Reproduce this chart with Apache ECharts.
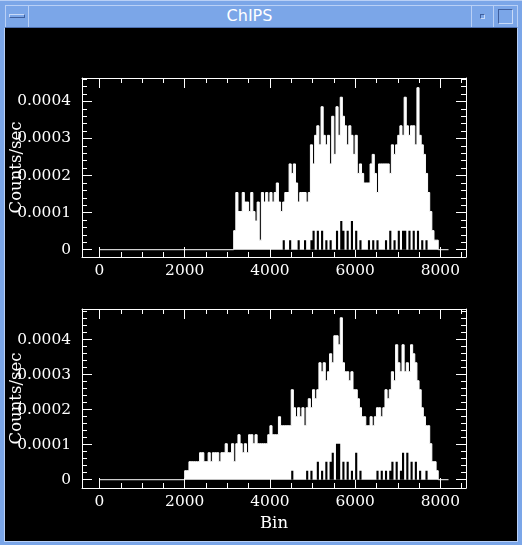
<!DOCTYPE html>
<html><head><meta charset="utf-8">
<script src="https://cdn.jsdelivr.net/npm/echarts@6/dist/echarts.min.js"></script>
<style>
html,body{margin:0;padding:0;background:#7BA6E8;}
#win{position:absolute;left:0;top:0;width:522px;height:545px;background:#7BA6E8;overflow:hidden;}
.ln{position:absolute;}
.lt{background:#B9D0F6;}
.dk{background:#4E70B0;}
#title{position:absolute;left:28px;top:5px;width:443px;height:22px;line-height:22px;text-align:center;color:#fff;font-family:"DejaVu Sans",sans-serif;font-size:16px;}
#dash{position:absolute;left:9px;top:14px;width:14px;height:2px;border-top:1px solid #C8DAF8;border-left:1px solid #C8DAF8;border-bottom:1px solid #3F5F9E;border-right:1px solid #3F5F9E;}
#dot{position:absolute;left:480px;top:14px;width:3px;height:3px;border-top:1px solid #3F5F9E;border-left:1px solid #3F5F9E;border-bottom:1px solid #C8DAF8;border-right:1px solid #C8DAF8;}
#sq{position:absolute;left:498px;top:9px;width:13px;height:13px;border-top:1px solid #3F5F9E;border-left:1px solid #3F5F9E;border-bottom:1px solid #C8DAF8;border-right:1px solid #C8DAF8;}
#content{position:absolute;left:5px;top:28px;width:512px;height:513px;background:#000;}
#chart{position:absolute;left:0;top:0;width:522px;height:545px;}
</style></head><body>
<div id="win">
  <div class="ln lt" style="left:0;top:0;width:522px;height:1px"></div>
  <div class="ln lt" style="left:5px;top:5px;width:512px;height:1px"></div>
  <div class="ln dk" style="left:5px;top:27px;width:512px;height:1px"></div>
  <div class="ln lt" style="left:5px;top:5px;width:1px;height:22px"></div>
  <div class="ln lt" style="left:28px;top:5px;width:1px;height:22px"></div>
  <div class="ln lt" style="left:471px;top:5px;width:1px;height:22px"></div>
  <div class="ln lt" style="left:493px;top:5px;width:1px;height:22px"></div>
  <div class="ln lt" style="left:517px;top:5px;width:1px;height:22px"></div>
  <div class="ln lt" style="left:4px;top:28px;width:1px;height:514px"></div>
  <div class="ln lt" style="left:517px;top:28px;width:1px;height:514px"></div>
  <div class="ln lt" style="left:4px;top:541px;width:514px;height:1px"></div>
  <div id="dash"></div>
  <div id="title">ChIPS</div>
  <div id="dot"></div>
  <div id="sq"></div>
  <div id="content"></div>
  <div id="chart"></div>
</div>
<script>
// ---- data (histogram counts, grouped in 50-bin steps) ----
const BIN_MIN = 0, BIN_MAX = 8192, BIN_WIDTH = 50;
const COUNT_RATE = 2.57e-5; // counts/sec corresponding to one count in a bin

const TOP_FIRST_BIN = 3150;
const topHiCounts = [
  2,6,4,4,6,5,5,4,6,4,
  3,5,1,6,5,6,5,6,5,6,
  7,5,4,5,6,6,9,8,9,7,
  5,6,6,6,5,6,11,9,12,13,
  11,15,12,11,12,9,14,10,15,12,
  16,14,13,11,13,12,10,12,8,9,
  8,7,7,7,9,10,8,6,9,9,
  9,9,9,8,11,10,11,12,13,12,
  16,13,12,13,13,11,17,12,11,10,
  8,6,4,2,1,1
];
const topLoCounts = [
  0,0,0,0,0,0,0,0,0,0,
  0,0,0,0,0,0,0,0,0,0,
  0,0,0,1,0,0,1,0,0,0,
  1,0,0,1,0,0,1,2,0,2,
  0,2,0,1,0,1,0,0,2,0,
  3,2,0,2,0,3,0,2,0,1,
  0,0,0,1,0,1,0,1,0,0,
  0,1,0,2,0,1,0,2,0,2,
  2,0,2,0,2,0,2,0,1,0,
  1,0,0,0,0,0
];

const BOTTOM_FIRST_BIN = 2000;
const bottomHiCounts = [
  1,1,2,2,2,2,2,3,3,2,
  2,3,2,3,3,3,2,3,3,4,
  3,3,4,2,4,5,4,3,4,3,
  5,5,4,5,4,4,4,4,4,5,
  6,5,5,5,7,6,6,6,6,6,
  10,8,7,8,7,8,6,8,9,8,
  10,9,10,13,12,13,11,12,14,13,
  16,16,15,18,13,12,12,11,12,10,
  10,9,8,7,7,6,6,7,6,7,
  8,8,7,8,10,9,10,12,11,15,
  13,12,15,12,13,12,15,14,13,11,
  10,8,7,6,6,4,2,2,1
];
const bottomLoCounts = [
  0,0,0,0,0,0,0,0,0,0,
  0,0,0,0,0,0,0,0,0,0,
  0,0,0,0,0,0,0,0,0,0,
  0,0,0,0,0,0,0,0,0,0,
  0,0,0,0,0,0,0,0,0,0,
  1,0,0,0,0,0,0,1,0,1,
  0,0,2,0,1,0,2,0,2,3,
  0,4,4,0,2,0,2,0,1,0,
  3,0,1,0,0,0,0,0,0,0,
  1,0,1,0,1,0,1,2,0,2,
  0,1,3,0,3,0,2,0,2,0,
  1,0,0,1,0,0,0,0,0
];

// ---- ticks ----
const xMajorTicks = [0, 2000, 4000, 6000, 8000];
const xMinorTicks = [500, 1000, 1500, 2500, 3000, 3500, 4500, 5000, 5500, 6500, 7000, 7500, 8500];
const yMajorTicks = [0, 0.0001, 0.0002, 0.0003, 0.0004];
const yMinorTicksTop = [0.00002,0.00004,0.00006,0.00008,0.00012,0.00014,0.00016,0.00018,0.00022,0.00024,0.00026,0.00028,0.00032,0.00034,0.00036,0.00038,0.00042,0.00044,0.00046];
const yMinorTicksBottom = yMinorTicksTop.concat([0.00048]);

// ---- axis ranges ----
const xRange = [-409.6, 8601.6];
const yRangeTop = [-0.0000197, 0.000463];
const yRangeBottom = [-0.0000237, 0.0004877];

function histPath(first, counts, withBase) {
  const pts = withBase ? [[BIN_MIN, 0], [first, 0]] : [];
  counts.forEach((c, i) => {
    const x0 = first + i * BIN_WIDTH, v = c * COUNT_RATE;
    pts.push([x0, v], [x0 + BIN_WIDTH, v]);
  });
  const end = first + counts.length * BIN_WIDTH;
  pts.push([end, 0]);
  if (withBase) pts.push([BIN_MAX, 0]);
  return pts;
}

const FONT = 'DejaVu Serif';
const WHITE = '#ffffff';
const lineW = {color: WHITE, width: 1};

function xAxes(gi, name) {
  const base = {type: 'value', gridIndex: gi, min: xRange[0], max: xRange[1], splitLine: {show: false}};
  return [
    Object.assign({}, base, {position: 'bottom',
      axisLine: {show: true, onZero: false, lineStyle: lineW},
      axisTick: {show: true, inside: true, length: 10, customValues: xMajorTicks, lineStyle: lineW},
      axisLabel: {show: true, customValues: xMajorTicks, formatter: v => String(v), color: WHITE, fontFamily: FONT, fontSize: 15.4, margin: 6},
      name: name, nameLocation: 'middle', nameGap: 27, nameMoveOverlap: false,
      nameTextStyle: {color: WHITE, fontFamily: FONT, fontSize: 16.5}}),
    Object.assign({}, base, {position: 'bottom',
      axisLine: {show: false, onZero: false},
      axisTick: {show: true, inside: true, length: 5, customValues: xMinorTicks, lineStyle: lineW},
      axisLabel: {show: false}}),
    Object.assign({}, base, {position: 'top',
      axisLine: {show: true, onZero: false, lineStyle: lineW},
      axisTick: {show: true, inside: true, length: 10, customValues: xMajorTicks, lineStyle: lineW},
      axisLabel: {show: false}}),
    Object.assign({}, base, {position: 'top',
      axisLine: {show: false, onZero: false},
      axisTick: {show: true, inside: true, length: 5, customValues: xMinorTicks, lineStyle: lineW},
      axisLabel: {show: false}})
  ];
}

function yAxes(gi, range, minor) {
  const base = {type: 'value', gridIndex: gi, min: range[0], max: range[1], splitLine: {show: false}};
  return [
    Object.assign({}, base, {position: 'left',
      axisLine: {show: true, onZero: false, lineStyle: lineW},
      axisTick: {show: true, inside: true, length: 10, customValues: yMajorTicks, lineStyle: lineW},
      axisLabel: {show: true, customValues: yMajorTicks, formatter: v => v === 0 ? '0' : v.toFixed(4), color: WHITE, fontFamily: FONT, fontSize: 15.4, margin: 11},
      name: 'Counts/sec', nameLocation: 'middle', nameRotate: 90, nameGap: 57, nameMoveOverlap: false,
      nameTextStyle: {color: WHITE, fontFamily: FONT, fontSize: 16.5}}),
    Object.assign({}, base, {position: 'left',
      axisLine: {show: false, onZero: false},
      axisTick: {show: true, inside: true, length: 5, customValues: minor, lineStyle: lineW},
      axisLabel: {show: false}}),
    Object.assign({}, base, {position: 'right',
      axisLine: {show: true, onZero: false, lineStyle: lineW},
      axisTick: {show: true, inside: true, length: 10, customValues: yMajorTicks, lineStyle: lineW},
      axisLabel: {show: false}}),
    Object.assign({}, base, {position: 'right',
      axisLine: {show: false, onZero: false},
      axisTick: {show: true, inside: true, length: 5, customValues: minor, lineStyle: lineW},
      axisLabel: {show: false}})
  ];
}

function histSeries(xi, yi, first, hi, lo) {
  return [
    {type: 'line', xAxisIndex: xi, yAxisIndex: yi, data: histPath(first, hi, true),
      showSymbol: false, symbol: 'none', silent: true, z: 2,
      lineStyle: {color: WHITE, width: 1}, areaStyle: {color: WHITE, opacity: 1}},
    {type: 'line', xAxisIndex: xi, yAxisIndex: yi, data: histPath(first, lo, false),
      showSymbol: false, symbol: 'none', silent: true, z: 3,
      lineStyle: {width: 0, opacity: 0}, areaStyle: {color: '#000000', opacity: 1}}
  ];
}

const chart = echarts.init(document.getElementById('chart'), null, {renderer: 'canvas'});
chart.setOption({
  animation: false,
  backgroundColor: 'transparent',
  grid: [
    {left: 82, top: 78, width: 384, height: 179, containLabel: false, outerBoundsMode: 'none'},
    {left: 82, top: 309, width: 384, height: 179, containLabel: false, outerBoundsMode: 'none'}
  ],
  xAxis: xAxes(0, '').concat(xAxes(1, 'Bin')),
  yAxis: yAxes(0, yRangeTop, yMinorTicksTop).concat(yAxes(1, yRangeBottom, yMinorTicksBottom)),
  series: histSeries(0, 0, TOP_FIRST_BIN, topHiCounts, topLoCounts)
    .concat(histSeries(4, 4, BOTTOM_FIRST_BIN, bottomHiCounts, bottomLoCounts))
});
</script>
</body></html>
